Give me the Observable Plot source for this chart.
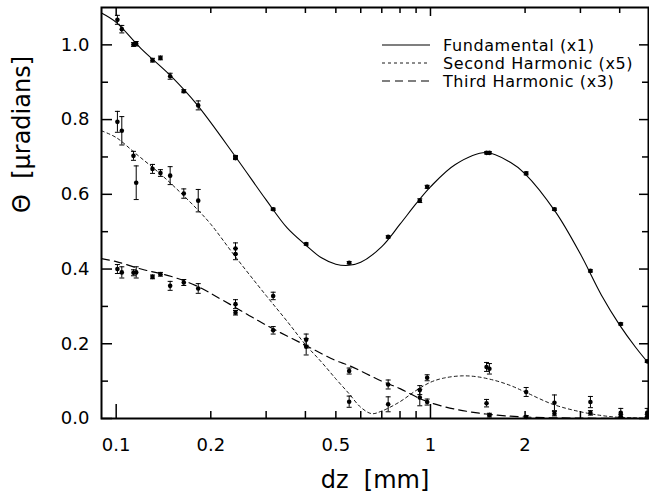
<!DOCTYPE html>
<html>
<head>
<meta charset="utf-8">
<script src="https://cdn.jsdelivr.net/npm/d3@7"></script>
<script src="https://cdn.jsdelivr.net/npm/@observablehq/plot@0.6"></script>
<style>
  html, body { margin: 0; padding: 0; background: #fff; }
  #chart { width: 649px; height: 502px; }
  svg { display: block; }
</style>
</head>
<body>
<div id="chart"></div>
<script>
// ---- measurement positions (dz in mm) shared by the three series ----
const dz = [0.1009, 0.1042, 0.1135, 0.1158, 0.1305, 0.1383, 0.1485, 0.1641, 0.1824, 0.2397, 0.2397,
            0.3159, 0.4023, 0.5512, 0.7335, 0.9247, 0.9761, 1.508, 1.540, 2.016, 2.480, 3.228, 4.032, 4.893];

// ---- measured values and errors (μradians) ----
const fundamental = [1.067, 1.042, 1.001, 1.003, 0.959, 0.965, 0.916, 0.876, 0.838, 0.700, 0.697,
                     0.560, 0.467, 0.417, 0.486, 0.583, 0.620, 0.711, 0.711, 0.656, 0.560, 0.395, 0.253, 0.153];
const fundamentalErr = [0.012, 0.010, 0.005, 0.006, 0.005, 0.005, 0.008, 0.004, 0.012, 0.004, 0.004,
                        0.003, 0.003, 0.003, 0.003, 0.005, 0.004, 0.003, 0.003, 0.004, 0.003, 0.003, 0.003, 0.003];

const second = [0.794, 0.770, 0.703, 0.631, 0.668, 0.657, 0.650, 0.602, 0.583, 0.455, 0.440,
                0.328, 0.192, 0.045, 0.038, 0.056, 0.109, 0.138, 0.133, 0.071, 0.042, 0.044, 0.015, 0.015];
const secondErr = [0.028, 0.038, 0.012, 0.045, 0.012, 0.009, 0.024, 0.0125, 0.030, 0.015, 0.015,
                   0.010, 0.022, 0.015, 0.020, 0.022, 0.008, 0.012, 0.014, 0.012, 0.021, 0.015, 0.012, 0.012];

const third = [0.400, 0.391, 0.390, 0.391, 0.379, 0.386, 0.355, 0.364, 0.348, 0.306, 0.283,
               0.236, 0.211, 0.127, 0.091, 0.076, 0.044, 0.041, 0.009, 0.004, 0.013, 0.015, 0.006, 0.006];
const thirdErr = [0.012, 0.015, 0.008, 0.015, 0.005, 0.005, 0.012, 0.008, 0.013, 0.012, 0.006,
                  0.010, 0.015, 0.008, 0.012, 0.012, 0.008, 0.010, 0.005, 0.004, 0.006, 0.006, 0.005, 0.005];

// ---- fitted curves ----
const fundCurveX = [0.0898, 0.1, 0.12, 0.15, 0.18, 0.24, 0.3, 0.35, 0.4, 0.45, 0.5, 0.55, 0.6, 0.7, 0.8, 0.9,
                    1.0, 1.2, 1.5, 1.8, 2.0, 2.5, 3.0, 3.5, 4.0, 4.5, 4.94];
const fundCurveY = [1.085, 1.06, 0.99, 0.915, 0.842, 0.70, 0.585, 0.51, 0.465, 0.43, 0.413, 0.41, 0.418, 0.46, 0.52, 0.575,
                    0.62, 0.68, 0.712, 0.685, 0.655, 0.553, 0.44, 0.33, 0.25, 0.19, 0.148];

const secondCurveX = [0.0898, 0.1, 0.115, 0.138, 0.16, 0.182, 0.2, 0.24, 0.3, 0.35, 0.4, 0.45, 0.5, 0.55, 0.6, 0.65,
                      0.7, 0.8, 0.9, 1.0, 1.1, 1.25, 1.4, 1.6, 1.8, 2.0, 2.45, 3.0, 3.5, 4.0, 4.94];
const secondCurveY = [0.77, 0.752, 0.71, 0.655, 0.605, 0.558, 0.52, 0.432, 0.329, 0.26, 0.198, 0.151, 0.106, 0.067, 0.03, 0.013,
                      0.02, 0.045, 0.075, 0.097, 0.108, 0.114, 0.112, 0.102, 0.088, 0.071, 0.038, 0.018, 0.008, 0.003, 0.001];

const thirdCurveX = [0.0898, 0.1, 0.12, 0.15, 0.18, 0.22, 0.3, 0.4, 0.5, 0.55, 0.7, 0.8, 0.9, 1.0, 1.2, 1.5,
                     2.0, 3.0, 4.94];
const thirdCurveY = [0.428, 0.42, 0.40, 0.38, 0.355, 0.315, 0.25, 0.196, 0.155, 0.142, 0.1, 0.08, 0.058, 0.042, 0.025, 0.012,
                     0.004, 0.001, 0.0];

// ---- axis ticks ----
const xTicksLong = [0.1, 1];
const xTicksShort = [0.2, 0.3, 0.4, 0.5, 0.6, 0.7, 0.8, 0.9, 2, 3, 4];
const xTickLabels = [0.1, 0.2, 0.5, 1, 2];
const yTicksMajor = [0, 0.2, 0.4, 0.6, 0.8, 1.0];
const yTicksMinor = [0.1, 0.3, 0.5, 0.7, 0.9];

const legendLabels = ["Fundamental (x1)", "Second Harmonic (x5)", "Third Harmonic (x3)"];

// build tables
const toRows = (vals, errs) => dz.map((x, i) => ({x, y: vals[i], lo: vals[i] - errs[i], hi: vals[i] + errs[i]}));
const points = [...toRows(fundamental, fundamentalErr), ...toRows(second, secondErr), ...toRows(third, thirdErr)];
const curve = (xs, ys) => xs.map((x, i) => ({x, y: ys[i]}));

const W = 649, H = 502;
const mL = 101, mR = 1, mT = 7, mB = 84;
const fw = W - mL - mR, fh = H - mT - mB;

const capSymbol = {draw(ctx, size) { ctx.moveTo(-2.5, 0); ctx.lineTo(2.5, 0); }};
const font = "DejaVu Sans";

const chart = Plot.plot({
  width: W, height: H,
  marginLeft: mL, marginRight: mR, marginTop: mT, marginBottom: mB,
  x: {type: "log", domain: [0.0898, 4.94], axis: null},
  y: {domain: [0, 1.1], axis: null},
  style: {fontFamily: font, color: "#000", background: "#fff"},
  marks: [
    // curves
    Plot.line(curve(fundCurveX, fundCurveY), {x: "x", y: "y", curve: "catmull-rom", stroke: "#000", strokeWidth: 1.1}),
    Plot.line(curve(secondCurveX, secondCurveY), {x: "x", y: "y", curve: "catmull-rom", stroke: "#000", strokeWidth: 0.9, strokeDasharray: "3,3"}),
    Plot.line(curve(thirdCurveX, thirdCurveY), {x: "x", y: "y", curve: "catmull-rom", stroke: "#000", strokeWidth: 1.2, strokeDasharray: "8,5"}),
    // error bars
    Plot.ruleX(points, {x: "x", y1: "lo", y2: "hi", stroke: "#000", strokeWidth: 1}),
    Plot.dot(points, {x: "x", y: "lo", symbol: capSymbol, stroke: "#000", strokeWidth: 1, r: 3}),
    Plot.dot(points, {x: "x", y: "hi", symbol: capSymbol, stroke: "#000", strokeWidth: 1, r: 3}),
    Plot.dot(points, {x: "x", y: "y", r: 2.3, fill: "#000", stroke: null}),
    // ticks (inward)
    Plot.tickX(xTicksLong, {x: d => d, insetTop: fh - 14, stroke: "#000", strokeWidth: 1.5}),
    Plot.tickX(xTicksShort, {x: d => d, insetTop: fh - 7, stroke: "#000", strokeWidth: 1.5}),
    Plot.tickX(xTicksLong, {x: d => d, insetBottom: fh - 9, stroke: "#000", strokeWidth: 1.5}),
    Plot.tickX(xTicksShort, {x: d => d, insetBottom: fh - 6, stroke: "#000", strokeWidth: 1.5}),
    Plot.tickY(yTicksMajor, {y: d => d, insetRight: fw - 11, stroke: "#000", strokeWidth: 1.5}),
    Plot.tickY(yTicksMinor, {y: d => d, insetRight: fw - 7, stroke: "#000", strokeWidth: 1.5}),
    Plot.tickY(yTicksMajor, {y: d => d, insetLeft: fw - 9, stroke: "#000", strokeWidth: 1.5}),
    Plot.tickY(yTicksMinor, {y: d => d, insetLeft: fw - 6, stroke: "#000", strokeWidth: 1.5}),
    // tick labels
    Plot.text(xTickLabels, {x: d => d, text: d => String(d), frameAnchor: "bottom", dy: 32, fontSize: 18, fill: "#000"}),
    Plot.text(yTicksMajor, {y: d => d, text: d => d.toFixed(1), frameAnchor: "left", textAnchor: "end", dx: -12, fontSize: 18, fill: "#000"}),
    // axis titles
    Plot.text(["dz\u00a0\u00a0[mm]"], {text: d => d, frameAnchor: "bottom", dy: 69, fontSize: 24, fill: "#000"}),
    Plot.text(["\u0398\u00a0\u00a0[\u03bcradians]"], {text: d => d, frameAnchor: "left", dx: -79, rotate: -90, fontSize: 24, fill: "#000"}),
    Plot.frame({stroke: "#000", strokeWidth: 2})
  ]
});

document.getElementById("chart").append(chart);

// legend (inside the plot, upper right)
const svg = d3.select(chart.tagName.toLowerCase() === "svg" ? chart : chart.querySelector("svg"));
const dashes = [null, "3,3", "8,5"];
const lg = svg.append("g").attr("font-family", font).attr("font-size", 16).attr("text-anchor", "start");
legendLabels.forEach((label, i) => {
  const y = 45 + i * 18;
  lg.append("line").attr("x1", 382).attr("x2", 430).attr("y1", y).attr("y2", y)
    .attr("stroke", "#000").attr("stroke-width", i === 1 ? 0.9 : 1.1)
    .attr("stroke-dasharray", dashes[i]);
  lg.append("text").attr("x", 443).attr("y", y + 6).attr("fill", "#000")
    .attr("letter-spacing", "0.6px").attr("text-anchor", "start").text(label);
});
</script>
</body>
</html>
